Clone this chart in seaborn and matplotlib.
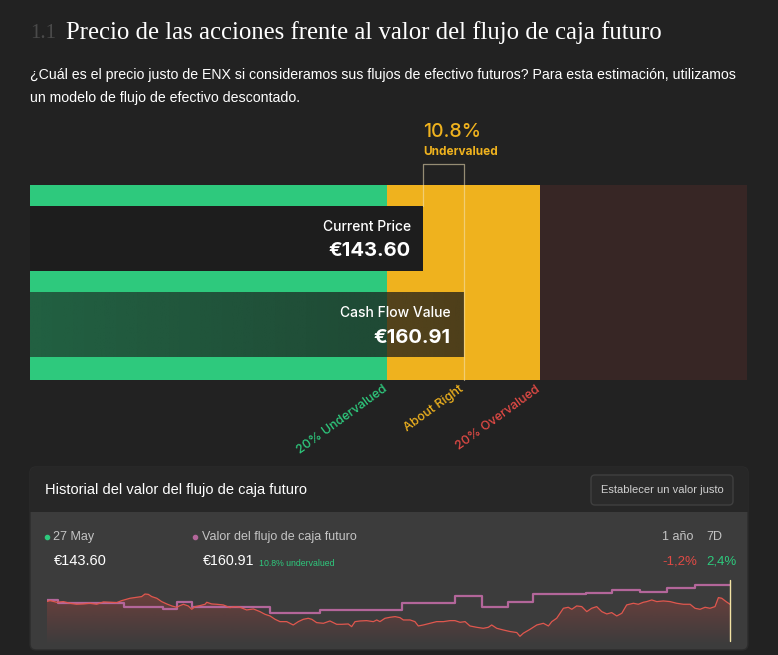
import numpy as np
import pandas as pd
import matplotlib.pyplot as plt
import seaborn as sns
from matplotlib.patches import FancyBboxPatch, Rectangle, Polygon
from matplotlib.colors import to_rgb

sns.set_theme(style='dark', rc={'axes.facecolor': 'none',
                                'figure.facecolor': '#222222',
                                'savefig.facecolor': '#222222'})
SANS = ['Inter', 'DejaVu Sans']
NARROW = ['Liberation Sans', 'DejaVu Sans']
SERIF = ['Liberation Serif', 'DejaVu Serif']
plt.rcParams['font.family'] = SANS

# --- datos de la valoracion ---
precio_actual = 143.60
valor_flujo = 160.91
descuento_pct = 10.8
zonas = ['20% Undervalued', 'About Right', '20% Overvalued']
var_1y = '-1,2%'
var_7d = '2,4%'
fecha = '27 May'

# historial del ultimo año (dia, EUR)
dias_precio = [0, 1.8, 5.3, 8.9, 12.4, 16.0, 19.6, 23.1, 26.7, 30.3, 33.8, 37.4, 40.1, 42.7,
               44.5, 48.1, 50.7, 52.5, 54.3, 56.1, 58.8, 61.4, 64.1, 66.8, 69.4, 71.2, 73.0,
               75.6, 77.5, 79.2, 81.9, 84.6, 85.5, 88.1, 90.8, 94.3, 97.9, 100.6, 103.3, 106.8,
               110.4, 113.9, 116.6, 119.3, 122.0, 124.6, 128.2, 131.7, 134.4, 137.1, 139.7,
               141.6, 144.2, 147.8, 151.3, 154.9, 157.6, 161.1, 162.9, 164.7, 167.4, 170.9,
               174.5, 176.3, 178.0, 180.7, 183.4, 186.1, 188.7, 190.5, 194.1, 196.7, 198.5,
               201.2, 204.8, 208.3, 211.9, 215.4, 218.1, 220.8, 223.5, 226.1, 229.7, 233.2,
               235.9, 237.7, 240.4, 243.9, 247.5, 251.1, 252.8, 254.6, 258.2, 261.8, 265.3,
               268.0, 269.8, 272.4, 274.2, 276.0, 278.6, 280.5, 283.1, 285.8, 288.5, 291.1,
               293.8, 296.5, 299.2, 301.8, 304.5, 307.2, 309.8, 313.4, 316.0, 318.7, 320.5,
               323.2, 325.9, 329.4, 333.0, 336.5, 340.1, 343.7, 346.3, 349.0, 351.7, 354.3,
               357.0, 358.8, 360.6, 362.9, 365.0]
precio_hist = [146.0, 146.9, 145.4, 146.0, 144.5, 143.6, 143.9, 144.5, 143.6, 145.7, 145.4,
               145.1, 146.9, 148.1, 149.0, 149.9, 150.5, 152.8, 152.5, 150.5, 149.0, 146.0,
               143.9, 142.1, 140.9, 142.4, 143.6, 142.1, 139.1, 141.5, 142.4, 143.6, 145.4,
               143.9, 143.6, 143.0, 140.6, 141.5, 140.9, 138.5, 139.4, 137.0, 134.6, 133.1,
               130.1, 128.0, 128.0, 125.0, 128.0, 130.1, 131.0, 130.1, 127.1, 126.5, 128.6,
               125.6, 125.6, 125.9, 123.5, 128.0, 128.6, 128.9, 128.0, 129.5, 128.0, 131.0,
               131.9, 132.5, 131.6, 129.5, 129.5, 128.0, 124.1, 125.0, 126.5, 128.0, 128.0,
               128.9, 128.9, 127.4, 128.0, 124.1, 122.9, 122.0, 122.9, 125.0, 122.0, 120.5,
               119.1, 118.2, 114.8, 117.6, 121.1, 125.0, 126.5, 124.1, 128.0, 131.0, 135.5,
               140.0, 140.9, 139.1, 142.1, 141.5, 137.0, 140.0, 141.5, 137.0, 134.9, 136.1,
               133.1, 135.5, 143.0, 144.5, 143.6, 145.4, 146.0, 147.5, 146.0, 146.6, 146.0,
               144.5, 143.6, 143.6, 140.0, 139.1, 140.9, 140.0, 141.5, 149.6, 149.0, 146.0,
               143.6]
dias_flujo = [0, 6.2, 41.5, 62.0, 69.4, 77.5, 119.3, 146.0, 189.6, 218.1, 232.4, 246.6,
              259.9, 288.1, 301.8, 316.9, 331.2, 346.3, 365.0]
flujo_hist = [147.5, 144.5, 140.9, 139.1, 145.4, 141.5, 136.1, 138.5, 144.5, 151.1, 141.5,
              145.4, 152.5, 154.0, 156.4, 154.3, 158.5, 160.9, 160.91]

verde = '#2ec97d'
amarillo = '#efb21e'
marron = '#372625'
rojo = '#e24a45'
rosa = '#b3669a'
gris = '#c4c4c4'

fig = plt.figure(figsize=(7.78, 6.55), dpi=100)

# capa de fondo en pixeles
fondo = fig.add_axes([0, 0, 1, 1], zorder=0)
fondo.set_xlim(0, 778)
fondo.set_ylim(655, 0)
fondo.axis('off')

fondo.text(30, 34, '1.1', family=SERIF, fontsize=15, color='#4a4a4a', va='center')
fondo.text(66, 33, 'Precio de las acciones frente al valor del flujo de caja futuro',
           family=SERIF, fontsize=17.8, color='white', va='center')
fondo.text(30, 75, '¿Cuál es el precio justo de ENX si consideramos sus flujos de efectivo futuros? '
           'Para esta estimación, utilizamos', family=NARROW, fontsize=10.2, color='white', va='center')
fondo.text(30, 98, 'un modelo de flujo de efectivo descontado.', family=NARROW, fontsize=10.2,
           color='white', va='center')

# panel inferior
fondo.add_patch(FancyBboxPatch((30, 467), 718, 183, boxstyle='round,pad=0,rounding_size=6',
                               fc='#3c3c3c', ec='#2c2c2c', lw=1))
fondo.add_patch(FancyBboxPatch((30, 467), 718, 45, boxstyle='round,pad=0,rounding_size=6',
                               fc='#272727', ec='none'))
fondo.add_patch(Rectangle((30, 500), 718, 12, fc='#272727', ec='none'))
fondo.text(45, 490, 'Historial del valor del flujo de caja futuro', family=NARROW, fontsize=10.5,
           color='white', va='center')
fondo.add_patch(FancyBboxPatch((591, 475), 142, 30, boxstyle='round,pad=0,rounding_size=4',
                               fc='#2b2b2b', ec='#404040', lw=1))
fondo.text(662, 490, 'Establecer un valor justo', family=NARROW, fontsize=8, color='#d0d0d0',
           ha='center', va='center')

fondo.plot([47], [537], 'o', ms=3, color=verde)
fondo.text(53, 537, fecha, family=NARROW, fontsize=9, color=gris, va='center')
fondo.text(54, 561, f'€{precio_actual:.2f}', family=NARROW, fontsize=10.5, color='white', va='center')
fondo.plot([195], [537], 'o', ms=3, color=rosa)
fondo.text(202, 537, 'Valor del flujo de caja futuro', family=NARROW, fontsize=9, color=gris,
           va='center')
fondo.text(203, 561, f'€{valor_flujo:.2f}', family=NARROW, fontsize=10.3, color='white', va='center')
fondo.text(259, 563, f'{descuento_pct}% undervalued', family=NARROW, fontsize=6.3, color=verde,
           va='center')
fondo.text(662, 537, '1 año', family=NARROW, fontsize=9, color=gris, va='center')
fondo.text(706, 537, '7D', family=NARROW, fontsize=9, color=gris, va='center')
fondo.text(662, 561, var_1y, family=NARROW, fontsize=9.5, color=rojo, va='center')
fondo.text(706, 561, var_7d, family=NARROW, fontsize=9.5, color=verde, va='center')

# grafico de barras de valoracion
ax = fig.add_axes([30 / 778, 1 - 380 / 655, 717 / 778, 195 / 655], zorder=2)
x0, x1 = -21.5, 280
ax.axvspan(x0, 0.8 * valor_flujo, color=verde, lw=0)
ax.axvspan(0.8 * valor_flujo, 1.2 * valor_flujo, color=amarillo, lw=0)
ax.axvspan(1.2 * valor_flujo, x1, color=marron, lw=0)

ax.barh([0], [precio_actual - x0], left=x0, height=0.75, color='#1d1d1d', edgecolor='none',
        linewidth=0, zorder=3)
grad = np.zeros((1, 256, 4))
grad[..., :3] = to_rgb('#1a1a1a')
grad[0, :, 3] = np.linspace(0.6, 0.76, 256)
ax.imshow(grad, extent=(x0, valor_flujo, 1.375, 0.625), aspect='auto', interpolation='bilinear',
          zorder=3)

# corchete entre precio y valor
tr = ax.get_xaxis_transform()
ax.plot([precio_actual, precio_actual, valor_flujo, valor_flujo], [0.892, 1.108, 1.108, 0.0],
        transform=tr, clip_on=False, color='#f4e4b8', alpha=0.55, lw=0.9, zorder=4)

ax.annotate('Current Price', (precio_actual, 0), xytext=(-12, 11.5), textcoords='offset pixels',
            ha='right', va='center', fontsize=10, fontweight='medium', color='white', zorder=5)
ax.annotate(f'€{precio_actual:.2f}', (precio_actual, 0), xytext=(-12, -12.5),
            textcoords='offset pixels', ha='right', va='center', fontsize=14.5, fontweight='bold',
            color='white', zorder=5)
ax.annotate('Cash Flow Value', (valor_flujo, 1), xytext=(-13, 12), textcoords='offset pixels',
            ha='right', va='center', fontsize=10, fontweight='medium', color='white', zorder=5)
ax.annotate(f'€{valor_flujo:.2f}', (valor_flujo, 1), xytext=(-13, -13),
            textcoords='offset pixels', ha='right', va='center', fontsize=14.5, fontweight='bold',
            color='white', zorder=5)

ax.annotate(f'{descuento_pct}%', (precio_actual, 1.272), xycoords=('data', 'axes fraction'),
            xytext=(0, 0), textcoords='offset pixels', ha='left', va='center', fontsize=14,
            fontweight='medium', color=amarillo, annotation_clip=False)
ax.annotate('Undervalued', (precio_actual, 1.171), xycoords=('data', 'axes fraction'),
            xytext=(1, 0), textcoords='offset pixels', ha='left', va='center', fontsize=8.5,
            fontweight='bold', color=amarillo, annotation_clip=False)

for etiqueta, xv, col in zip(zonas, [0.8 * valor_flujo, valor_flujo, 1.2 * valor_flujo],
                             [verde, amarillo, rojo]):
    ax.annotate(etiqueta, (xv, 0), xycoords=('data', 'axes fraction'), xytext=(2, -3),
                textcoords='offset pixels', ha='right', va='top', rotation=36, fontsize=9,
                fontweight='medium', color=col, annotation_clip=False)

ax.set_xlim(x0, x1)
ax.set_ylim(1.636, -0.618)
ax.axis('off')

# historial
ax2 = fig.add_axes([46.7 / 778, 1 - 645 / 655, 683.3 / 778, 67 / 655], zorder=2)
df_precio = pd.DataFrame({'dia': dias_precio, 'precio': precio_hist})
df_flujo = pd.DataFrame({'dia': dias_flujo, 'valor': flujo_hist})
ylo, yhi = 107, 167.2

borde = Polygon([(dias_precio[0], ylo)] + list(zip(dias_precio, precio_hist)) +
                [(dias_precio[-1], ylo)], closed=True, fc='none', ec='none')
ax2.add_patch(borde)
relleno = np.zeros((256, 1, 4))
relleno[..., :3] = to_rgb('#d9483f')
relleno[:, 0, 3] = np.linspace(0.3, 0.0, 256)
im = ax2.imshow(relleno, extent=(0, 365, ylo, max(precio_hist)), aspect='auto', origin='upper',
                zorder=1)
im.set_clip_path(borde)

sns.lineplot(data=df_precio, x='dia', y='precio', ax=ax2, color='#e0574e', linewidth=0.9,
             estimator=None, sort=False, zorder=3)
sns.lineplot(data=df_flujo, x='dia', y='valor', ax=ax2, color=rosa, linewidth=1.6,
             drawstyle='steps-post', estimator=None, sort=False, zorder=2)
ax2.axvline(365, ymin=0.06, ymax=0.97, color='#f2e3a4', lw=1, clip_on=False, zorder=4)
ax2.set_xlim(0, 365)
ax2.set_ylim(ylo, yhi)
ax2.axis('off')

fig.savefig('out.png', dpi=100)
